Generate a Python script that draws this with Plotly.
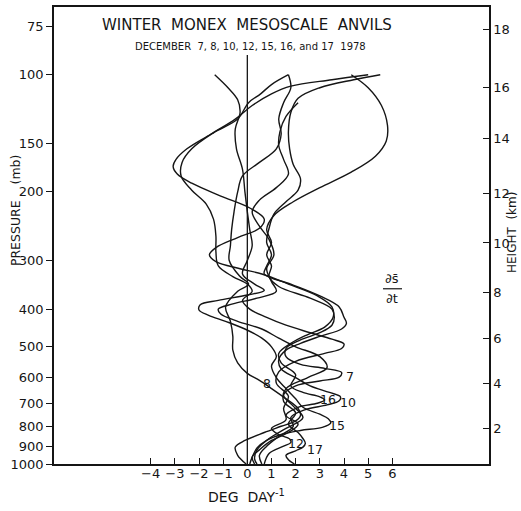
import numpy as np
import plotly.graph_objects as go

# ---- data: heating rate (deg/day) vs pressure (mb) ----
p7 = [100, 108, 120, 135, 148, 162, 178, 195, 212, 230, 250, 270, 290, 310, 330, 350, 375, 400, 420, 440, 460, 480, 505, 530, 555, 568, 582, 598, 612, 630, 665, 710, 760, 810, 860, 920, 970, 1000]
x7 = [4.3, 5.0, 5.55, 5.8, 5.75, 5.3, 4.3, 3.0, 1.9, 1.1, 0.8, 1.0, 0.8, 1.0, 0.9, 1.3, 2.6, 3.5, 3.6, 3.5, 3.0, 2.2, 1.6, 1.6, 2.2, 3.2, 3.9, 3.8, 3.0, 2.0, 1.5, 1.9, 2.3, 1.6, 0.9, 0.4, 0.3, 0.4]

p10 = [100, 103, 108, 115, 125, 140, 155, 170, 185, 198, 212, 228, 248, 270, 290, 310, 325, 345, 370, 395, 420, 435, 450, 470, 490, 510, 540, 570, 600, 630, 655, 672, 688, 705, 725, 760, 800, 850, 900, 950, 1000]
x10 = [5.5, 4.4, 3.0, 2.1, 1.8, 1.7, 1.75, 1.9, 2.2, 2.1, 1.6, 1.1, 0.9, 0.8, 1.0, 0.8, 0.7, 1.8, 3.0, 3.8, 4.0, 4.1, 3.9, 3.0, 2.2, 1.6, 1.3, 1.4, 2.0, 2.6, 3.4, 3.85, 3.8, 3.3, 2.4, 1.8, 1.9, 1.3, 0.8, 0.5, 0.6]

p16 = [100, 103, 107, 112, 120, 130, 142, 155, 165, 172, 180, 190, 205, 220, 235, 248, 262, 278, 290, 302, 315, 325, 345, 370, 395, 420, 445, 465, 490, 520, 550, 590, 630, 655, 672, 685, 698, 715, 750, 790, 830, 870, 920, 960, 1000]
x16 = [5.0, 3.5, 1.8, 1.0, 0.2, -0.5, -1.5, -2.5, -2.95, -3.07, -2.9, -2.3, -1.1, 0.1, 0.7, 0.5, -0.4, -1.3, -1.57, -1.3, -0.3, 0.6, 1.7, 2.9, 3.5, 3.55, 3.2, 2.5, 1.8, 1.3, 1.4, 2.0, 1.8, 2.3, 3.0, 3.2, 2.9, 2.1, 1.6, 2.1, 1.7, 1.0, 0.5, 0.2, 0.3]

p12 = [100, 106, 112, 118, 130, 141, 155, 168, 182, 198, 215, 235, 260, 285, 310, 330, 345, 360, 380, 400, 420, 440, 460, 478, 492, 505, 520, 545, 580, 620, 670, 720, 770, 810, 840, 862, 880, 900, 940, 1000]
x12 = [1.7, 1.0, 0.55, 0.05, -0.4, -1.4, -2.3, -2.7, -2.74, -2.3, -1.7, -1.4, -1.3, -1.3, -1.2, -0.6, 0.0, 0.2, -0.2, 0.1, 0.8, 1.6, 2.6, 3.5, 4.0, 3.9, 3.2, 2.0, 1.3, 1.2, 1.7, 1.5, 1.6, 1.0, 1.3, 1.75, 1.8, 1.5, 0.9, 0.7]

p15 = [100, 108, 116, 125, 138, 155, 175, 200, 225, 250, 275, 300, 325, 345, 358, 368, 380, 390, 402, 415, 430, 450, 475, 500, 530, 560, 600, 640, 680, 715, 745, 765, 785, 805, 820, 840, 870, 910, 960, 1000]
x15 = [-1.35, -0.8, -0.4, -0.3, -0.5, -0.45, -0.2, -0.1, 0.0, 0.1, 0.2, 0.0, -0.2, 0.3, 0.7, 0.0, -1.2, -1.95, -2.0, -1.6, -0.9, -0.1, 0.6, 1.0, 1.2, 1.0, 1.2, 1.6, 2.0, 2.3, 3.0, 3.35, 3.45, 3.1, 2.2, 1.4, 0.8, 0.4, 0.2, 0.1]

p8 = [100, 108, 118, 130, 142, 155, 168, 182, 200, 225, 250, 275, 300, 330, 345, 360, 395, 430, 470, 510, 550, 585, 610, 640, 680, 720, 750, 775, 800, 830, 870, 905, 950, 1000]
x8 = [1.7, 1.8, 1.5, 1.3, 1.4, 1.2, 0.5, -0.2, -0.4, -0.55, -0.65, -0.7, -0.75, -0.3, 0.05, -0.4, -0.9, -0.7, -0.6, -0.6, -0.4, 0.0, 0.5, 1.0, 1.6, 2.1, 2.2, 2.0, 1.4, 0.7, -0.1, -0.5, -0.4, -0.05]

p17 = [118, 128, 140, 152, 165, 180, 195, 210, 225, 245, 265, 290, 315, 340, 360, 375, 388, 400, 412, 430, 450, 475, 500, 530, 565, 600, 640, 690, 740, 790, 830, 860, 885, 905, 925, 950, 975, 1000]
x17 = [2.1, 1.6, 1.35, 1.3, 1.5, 1.7, 1.2, 0.5, 0.2, 0.5, 0.9, 1.1, 0.8, 1.0, 1.2, 0.4, -0.6, -1.2, -1.1, -0.4, 0.6, 1.3, 2.0, 3.0, 3.3, 2.5, 1.6, 1.5, 2.0, 1.7, 2.1, 2.3, 2.4, 2.3, 2.0, 1.6, 1.7, 1.95]

days = ["7", "8", "10", "12", "15", "16", "17"]
curves = {"7": (x7, p7), "8": (x8, p8), "10": (x10, p10), "12": (x12, p12),
          "15": (x15, p15), "16": (x16, p16), "17": (x17, p17)}

# curve labels (deg/day, mb)
label_x = {"7": 4.25, "8": 0.8, "10": 4.15, "12": 2.03, "15": 3.69, "16": 3.32, "17": 2.78}
label_p = {"7": 597, "8": 620, "10": 695, "12": 884, "15": 794, "16": 682, "17": 917}

# axes
pressure_ticks = [75, 100, 150, 200, 300, 400, 500, 600, 700, 800, 900, 1000]
height_km = [2, 4, 6, 8, 10, 12, 14, 16, 18]
height_p = [809, 620, 476, 363, 270.5, 201.5, 145.8, 108, 76.7]
x_ticks = [-4, -3, -2, -1, 0, 1, 2, 3, 4, 5, 6]
zero_line_p = [89, 1000]
zero_line_x = [0, 0]

p_top, p_bot = 67.0, 1000.0
yr = [np.log10(p_bot), np.log10(p_top)]

FONT = "DejaVu Sans"
INK = "#151515"

fig = go.Figure()
for d in days:
    xs, ps = curves[d]
    fig.add_trace(go.Scatter(x=xs, y=ps, mode="lines", line=dict(color=INK, width=1.4, shape="spline", smoothing=1.0),
                             showlegend=False, hoverinfo="skip"))
fig.add_trace(go.Scatter(x=zero_line_x, y=zero_line_p, mode="lines", line=dict(color=INK, width=1.3),
                         showlegend=False, hoverinfo="skip"))
# invisible trace to activate the right-hand height axis
fig.add_trace(go.Scatter(x=zero_line_x, y=zero_line_p, yaxis="y2", mode="lines", line=dict(width=0),
                         opacity=0, showlegend=False, hoverinfo="skip"))

for d in days:
    fig.add_annotation(x=label_x[d], y=np.log10(label_p[d]), xref="x", yref="y", text=d, showarrow=False,
                       xanchor="center", yanchor="middle", font=dict(family=FONT, size=12.5, color=INK))

W, H = 521, 511
L, R, T, B = 54, 32, 5, 47
pw, ph = W - L - R, H - T - B

def px(xp):
    return (xp - L) / pw

def py(yp):
    return (H - B - yp) / ph

def note(xp, yp, text, size, angle=0):
    fig.add_annotation(x=px(xp), y=py(yp), xref="paper", yref="paper", text=text, textangle=angle,
                       xanchor="center", yanchor="middle", showarrow=False,
                       font=dict(family=FONT, size=size, color=INK))

note(247, 23, "WINTER  MONEX  MESOSCALE  ANVILS", 15)
note(250, 45, "DECEMBER  7, 8, 10, 12, 15, 16, and 17  1978", 10)
note(15, 210, "PRESSURE    (mb)", 12.5, -90)
note(512, 232, "HEIGHT  (km)", 12, -90)
note(246, 496, "DEG  DAY<sup>-1</sup>", 14)
note(392, 278, "\u2202s\u0304", 13)
note(392, 298, "\u2202t", 13)
fig.add_shape(type="line", xref="paper", yref="paper", x0=px(383), x1=px(402), y0=py(288), y1=py(288),
              line=dict(color=INK, width=1.2))

fig.update_layout(
    width=W, height=H, margin=dict(l=L, r=R, t=T, b=B),
    paper_bgcolor="white", plot_bgcolor="white",
    xaxis=dict(range=[-8, 10], tickvals=x_ticks, ticks="inside", ticklen=6, tickwidth=1.2, tickcolor=INK,
               showline=True, linecolor=INK, linewidth=1.5, mirror=True, showgrid=False, zeroline=False,
               ticklabelstandoff=-3, tickfont=dict(family=FONT, size=13, color=INK)),
    yaxis=dict(type="log", range=yr, tickvals=pressure_ticks, ticktext=[str(v) for v in pressure_ticks],
               ticks="outside", ticklen=6, tickwidth=1.2, tickcolor=INK, showline=True, linecolor=INK,
               linewidth=1.5, showgrid=False, zeroline=False, tickfont=dict(family=FONT, size=13, color=INK)),
    yaxis2=dict(type="log", range=yr, overlaying="y", side="right", tickvals=height_p,
                ticktext=[str(v) for v in height_km], ticks="inside", ticklen=6, tickwidth=1.2, tickcolor=INK,
                showline=True, linecolor=INK, linewidth=1.5, showgrid=False, zeroline=False,
                tickfont=dict(family=FONT, size=13, color=INK)),
)

fig.write_html("out.html", config={"displayModeBar": False},
               post_script="document.body.style.margin='0';")
